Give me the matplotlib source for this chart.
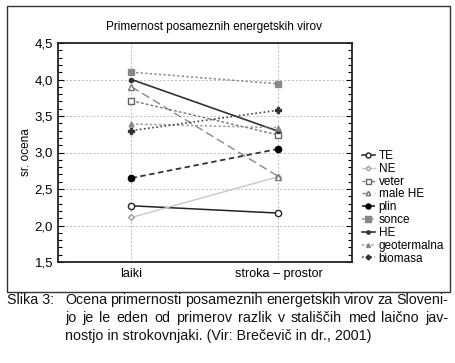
import matplotlib
matplotlib.use("Agg")
import matplotlib.pyplot as plt
from matplotlib.patches import Rectangle
from matplotlib.ticker import MultipleLocator

plt.rcParams['font.family'] = ['Liberation Sans', 'DejaVu Sans']

categories = ["laiki", "stroka \u2013 prostor"]
series_names = ["TE", "NE", "veter", "male HE", "plin", "sonce", "HE", "geotermalna", "biomasa"]
TE = [2.27, 2.17]
NE = [2.11, 2.67]
veter = [3.71, 3.24]
male_HE = [3.90, 2.67]
plin = [2.65, 3.05]
sonce = [4.10, 3.94]
HE = [4.00, 3.29]
geotermalna = [3.39, 3.34]
biomasa = [3.30, 3.58]
yticks = [1.5, 2.0, 2.5, 3.0, 3.5, 4.0, 4.5]
ytick_labels = ["1,5", "2,0", "2,5", "3,0", "3,5", "4,0", "4,5"]

series_values = [TE, NE, veter, male_HE, plin, sonce, HE, geotermalna, biomasa]
styles = [
    dict(color="#222222", ls="-", lw=1.1, marker="o", ms=4.5, mfc="white", mec="#222222"),
    dict(color="#c8c8c8", ls="-", lw=1.0, marker="D", ms=3, mfc="white", mec="#a0a0a0"),
    dict(color="#777777", ls=(0, (2, 1.5)), lw=1.0, marker="s", ms=4.5, mfc="white", mec="#666666"),
    dict(color="#888888", ls=(0, (6, 3)), lw=1.0, marker="^", ms=4, mfc="white", mec="#777777"),
    dict(color="#333333", ls=(0, (3, 2)), lw=1.3, marker="o", ms=4.5, mfc="black", mec="black"),
    dict(color="#8a8a8a", ls=(0, (1.5, 1.5)), lw=1.1, marker="s", ms=5, mfc="#888888", mec="#888888"),
    dict(color="#333333", ls="-", lw=1.2, marker="o", ms=3, mfc="#333333", mec="#333333"),
    dict(color="#999999", ls=(0, (1.5, 1.5)), lw=1.1, marker="^", ms=3.5, mfc="#888888", mec="#888888"),
    dict(color="#444444", ls=(0, (1, 1.5)), lw=1.2, marker="P", ms=4, mfc="#333333", mec="#333333"),
]

W, H = 456, 363
fig = plt.figure(figsize=(W / 100, H / 100), dpi=100)
fig.patch.set_facecolor("white")

# outer frame
fig.patches.append(Rectangle((7 / W, 1 - 292 / H), (450 - 7) / W, (292 - 6) / H,
                             transform=fig.transFigure, fill=False, ec="#333333", lw=1.0))

ax = fig.add_axes([58 / W, 1 - 262 / H, (352 - 58) / W, (262 - 43) / H])
x = list(range(len(categories)))
for name, vals, st in zip(series_names, series_values, styles):
    ax.plot(x, vals, label=name, **st)

ax.set_xlim(-0.5, 1.5)
ax.set_ylim(1.5, 4.5)
ax.set_xticks(x)
ax.set_xticklabels(categories, fontsize=9)
ax.set_yticks(yticks)
ax.set_yticklabels(ytick_labels, fontsize=9.5)
ax.yaxis.set_minor_locator(MultipleLocator(0.1))
ax.tick_params(axis="y", which="both", direction="in", left=True, right=True, length=3, width=0.8)
ax.tick_params(axis="y", which="major", length=4)
ax.tick_params(axis="x", length=0, pad=4)
ax.grid(True, which="major", color="#bbbbbb", ls=(0, (2, 2)), lw=0.7)
for s in ax.spines.values():
    s.set_color("#222222")
    s.set_linewidth(1.3)
ax.set_ylabel("sr. ocena", fontsize=8.5, labelpad=2)

fig.text(214 / W, 1 - 27 / H, "Primernost posameznih energetskih virov", fontsize=8.5,
         ha="center", va="center")

leg = ax.legend(loc="upper left", bbox_to_anchor=(362 / W, 1 - 150 / H), bbox_transform=fig.transFigure,
                frameon=False, fontsize=8.5, handlelength=1.1, handletextpad=0.3,
                labelspacing=0.07, borderaxespad=0, borderpad=0, markerscale=0.8)

# caption
cap_lines = [
    "Ocena primernosti posameznih energetskih virov za Sloveni-",
    "jo je le eden od primerov razlik v stališčih med laično jav-",
    "nostjo in strokovnjaki. (Vir: Brečevič in dr., 2001)",
]
cap_fs = 10.3
fig.text(7 / W, 1 - 300 / H, "Slika 3:", fontsize=cap_fs, ha="left", va="center", color="#111111")

fig.canvas.draw()
renderer = fig.canvas.get_renderer()
x0, x1 = 65, 448
ys = [300, 318, 336]
for i, (line, yy) in enumerate(zip(cap_lines, ys)):
    if i < len(cap_lines) - 1:
        words = line.split(" ")
        widths = []
        for w_ in words:
            t = fig.text(0, 0, w_, fontsize=cap_fs)
            widths.append(t.get_window_extent(renderer).width)
            t.remove()
        gap = (x1 - x0 - sum(widths)) / (len(words) - 1)
        pos = x0
        for w_, wd in zip(words, widths):
            fig.text(pos / W, 1 - yy / H, w_, fontsize=cap_fs, ha="left", va="center", color="#111111")
            pos += wd + gap
    else:
        fig.text(x0 / W, 1 - yy / H, line, fontsize=cap_fs, ha="left", va="center", color="#111111")

fig.savefig("out.png", dpi=100)
